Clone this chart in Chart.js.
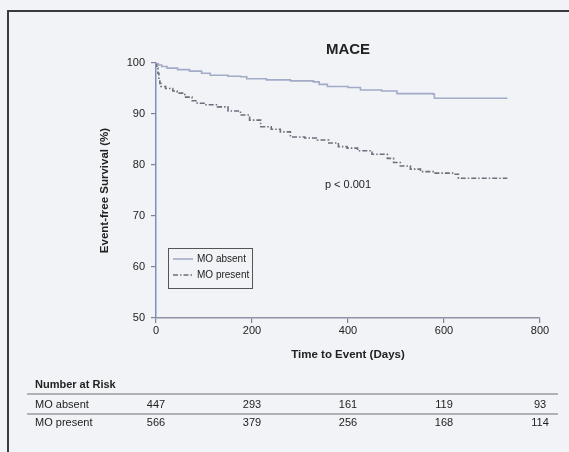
<!DOCTYPE html>
<html lang="en">
<head>
  <meta charset="UTF-8">
  <title>MACE Kaplan-Meier</title>
  <script src="https://cdn.jsdelivr.net/npm/chart.js"></script>
  <style>
    html, body { margin: 0; padding: 0; background: #f2f3f7; }
    #wrap { position: relative; width: 569px; height: 452px; }
  </style>
</head>
<body>
  <div id="wrap"><canvas id="km" width="569" height="452"></canvas></div>

  <script>
    // event-free survival (%), one point per step
    const absentDays = [0, 5, 12, 23, 45, 70, 95, 113, 150, 176, 189, 230, 280, 328, 340, 357, 400, 426, 470, 502, 577, 580, 732];
    const absentSurv = [100, 99.6, 99.3, 99.0, 98.7, 98.4, 98.0, 97.6, 97.4, 97.3, 96.9, 96.7, 96.5, 96.3, 95.8, 95.4, 95.2, 94.7, 94.5, 94.0, 93.9, 93.1, 93.1];

    const presentDays = [0, 2, 4, 6, 8, 10, 20, 35, 44, 60, 75, 86, 100, 128, 150, 176, 195, 218, 240, 259, 280, 310, 336, 360, 380, 398, 420, 450, 482, 495, 509, 530, 551, 579, 620, 630, 732];
    const presentSurv = [100, 99, 98, 97, 96, 95.4, 95.0, 94.5, 94.1, 93.3, 92.6, 92.1, 91.8, 91.4, 90.6, 89.8, 88.8, 87.5, 87.0, 86.5, 85.5, 85.3, 84.9, 84.3, 83.6, 83.3, 82.8, 82.1, 81.3, 80.5, 79.8, 79.2, 78.7, 78.4, 78.2, 77.4, 77.4];

    const groups = ['MO absent', 'MO present'];
    const riskDays = [0, 200, 400, 600, 800];
    const riskAbsent = [447, 293, 161, 119, 93];
    const riskPresent = [566, 379, 256, 168, 114];

    const FONT = '"Liberation Sans", Arial, sans-serif';

    const pts = (xs, ys) => xs.map((x, i) => ({ x: x, y: ys[i] }));

    // background, frame, title, p-value, legend and risk table
    const extras = {
      id: 'extras',
      beforeDraw(chart) {
        const c = chart.ctx;
        c.save();
        c.fillStyle = '#f2f3f7';
        c.fillRect(0, 0, chart.width, chart.height);
        c.strokeStyle = '#3a3a40';
        c.lineWidth = 2;
        c.beginPath();
        c.moveTo(8, 452);
        c.lineTo(8, 11);
        c.lineTo(569, 11);
        c.stroke();
        c.restore();
      },
      afterDraw(chart) {
        const c = chart.ctx;
        const x = chart.scales.x, y = chart.scales.y;
        const mid = (chart.chartArea.left + chart.chartArea.right) / 2;
        c.save();
        c.fillStyle = '#222';
        c.textAlign = 'center';
        c.textBaseline = 'middle';
        c.font = 'bold 15px ' + FONT;
        c.fillText('MACE', mid, 50);
        c.font = '11px ' + FONT;
        c.fillText('p < 0.001', x.getPixelForValue(400), y.getPixelForValue(76));

        // legend box
        const lx = 168, ly = 248, lw = 84, lh = 40;
        c.strokeStyle = '#555';
        c.lineWidth = 1;
        c.setLineDash([]);
        c.strokeRect(lx + 0.5, ly + 0.5, lw, lh);
        c.textAlign = 'left';
        c.font = '10px ' + FONT;
        chart.data.datasets.forEach((ds, i) => {
          const yy = ly + 11 + i * 16;
          c.strokeStyle = ds.borderColor;
          c.lineWidth = ds.borderWidth;
          c.setLineDash(ds.borderDash || []);
          c.beginPath();
          c.moveTo(lx + 5, yy);
          c.lineTo(lx + 25, yy);
          c.stroke();
          c.fillStyle = '#222';
          c.fillText(ds.label, lx + 29, yy);
        });

        // number at risk table
        c.setLineDash([]);
        c.font = 'bold 11px ' + FONT;
        c.fillText('Number at Risk', 35, 385);
        c.strokeStyle = '#9a9aa2';
        c.lineWidth = 1.5;
        [394, 414].forEach(ry => {
          c.beginPath();
          c.moveTo(27, ry);
          c.lineTo(558, ry);
          c.stroke();
        });
        c.font = '11px ' + FONT;
        c.fillStyle = '#222';
        const rows = [riskAbsent, riskPresent];
        rows.forEach((row, r) => {
          const ry = 405 + r * 18;
          c.textAlign = 'left';
          c.fillText(groups[r], 35, ry);
          c.textAlign = 'center';
          row.forEach((n, k) => c.fillText(String(n), x.getPixelForValue(riskDays[k]), ry));
        });
        c.restore();
      }
    };

    new Chart(document.getElementById('km'), {
      type: 'line',
      data: {
        datasets: [
          {
            label: groups[0],
            data: pts(absentDays, absentSurv),
            borderColor: '#a2abc8',
            borderWidth: 1.6,
            stepped: true,
            pointRadius: 0
          },
          {
            label: groups[1],
            data: pts(presentDays, presentSurv),
            borderColor: '#6c6f7c',
            borderWidth: 1.6,
            borderDash: [5, 2, 1.5, 2],
            stepped: true,
            pointRadius: 0
          }
        ]
      },
      options: {
        responsive: false,
        animation: false,
        layout: { padding: { left: 95, top: 63, right: 29, bottom: 90 } },
        plugins: { legend: { display: false }, tooltip: { enabled: false } },
        scales: {
          x: {
            type: 'linear',
            min: 0,
            max: 800,
            afterFit: s => { s.height = 44; },
            ticks: { stepSize: 200, color: '#222', font: { family: FONT, size: 11 }, padding: 1 },
            grid: { display: true, drawOnChartArea: false, drawTicks: true, tickLength: 5, tickColor: '#7d8194', lineWidth: 1.2 },
            border: { color: '#8e93a8', width: 1.5 },
            title: { display: true, text: 'Time to Event (Days)', color: '#222', font: { family: FONT, size: 11.5, weight: 'bold' }, padding: { top: 6, bottom: 0 } }
          },
          y: {
            min: 50,
            max: 100,
            afterFit: s => { s.width = 61; },
            ticks: { stepSize: 10, color: '#222', font: { family: FONT, size: 11 }, padding: 6 },
            grid: { display: true, drawOnChartArea: false, drawTicks: true, tickLength: 5, tickColor: '#7d8194', lineWidth: 1.2 },
            border: { color: '#7f8fb8', width: 1.5 },
            title: { display: true, text: 'Event-free Survival (%)', color: '#222', font: { family: FONT, size: 11.5, weight: 'bold' }, padding: { top: 3, bottom: 0 } }
          }
        }
      },
      plugins: [extras]
    });
  </script>
</body>
</html>
